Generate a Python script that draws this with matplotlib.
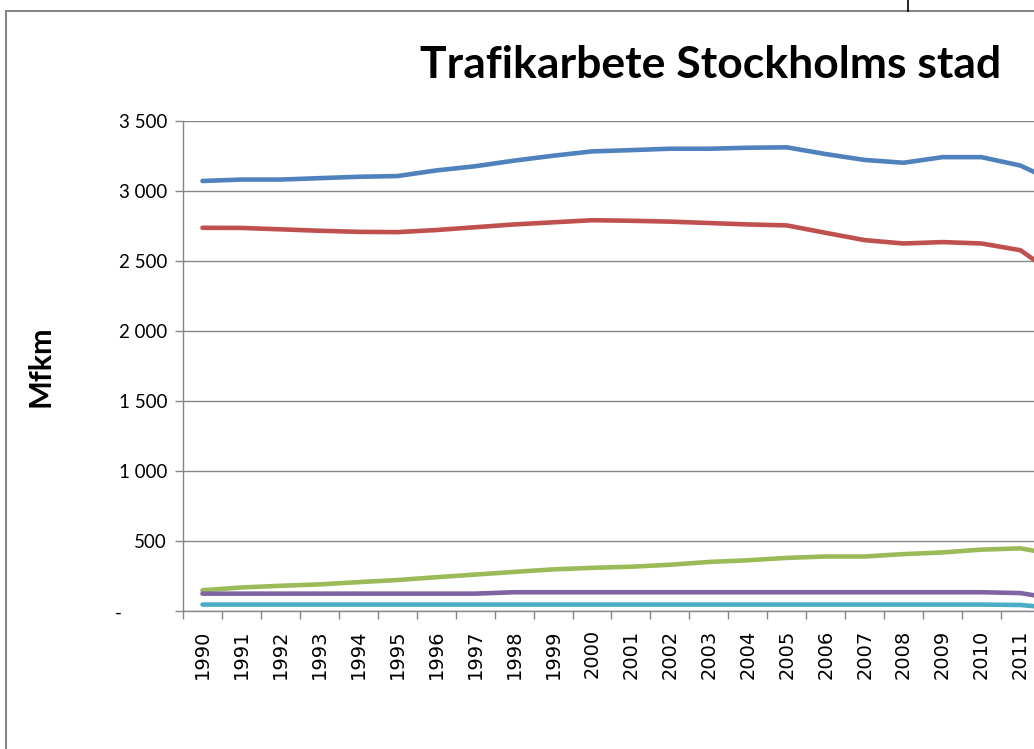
import matplotlib
matplotlib.use("Agg")
import matplotlib.pyplot as plt
from matplotlib.lines import Line2D
from matplotlib.ticker import FixedLocator
from matplotlib.transforms import ScaledTranslation

# data (Mfkm), the chart is cut at the right edge
years = list(range(1990, 2013))
blue = [3070, 3080, 3080, 3090, 3100, 3105, 3145, 3175, 3215, 3250, 3281,
        3290, 3300, 3300, 3307, 3310, 3262, 3220, 3200, 3240, 3240, 3180, 3050]
red = [2736, 2735, 2725, 2715, 2707, 2705, 2720, 2740, 2760, 2775, 2790,
       2786, 2780, 2770, 2760, 2753, 2700, 2648, 2624, 2634, 2624, 2576, 2380]
green = [150, 170, 182, 192, 208, 223, 243, 262, 281, 299, 310,
         318, 332, 352, 364, 381, 391, 391, 408, 420, 440, 449, 400]
purple = [126, 126, 126, 126, 126, 126, 126, 126, 136, 136, 136,
          136, 136, 136, 136, 136, 136, 136, 136, 136, 136, 130, 85]
cyan = [48, 48, 48, 48, 48, 48, 48, 48, 48, 48, 48,
        48, 48, 48, 48, 48, 48, 48, 48, 48, 48, 45, 20]

series = [blue, red, green, purple, cyan]
colors = ['#4F81BD', '#C0504D', '#9BBB59', '#8064A2', '#4BACC6']

yticks = [0, 500, 1000, 1500, 2000, 2500, 3000, 3500]
ylabels = ['-', '500', '1 000', '1 500', '2 000', '2 500', '3 000', '3 500']

W, H = 1034, 749
fig = plt.figure(figsize=(W / 100, H / 100), dpi=100)
ax = fig.add_axes([183 / W, 1 - 611.3 / H, 1 - 183 / W, (611.3 - 120.7) / H])

x = list(range(len(years)))
for vals, c in zip(series, colors):
    ax.plot(x, vals, color=c, lw=3.3, solid_capstyle='round', zorder=3)

grey = '#868686'
ax.set_yticks(yticks, ylabels, fontfamily='Lato', fontsize=13.5)
ax.yaxis.grid(True, color=grey, lw=1.0)
ax.set_axisbelow(True)
ax.tick_params(axis='y', length=6, color=grey, width=1.0, pad=5.5)

ax.set_xticks(x, [str(y) for y in years], rotation=90, fontsize=14)
ax.tick_params(axis='x', which='major', length=0, pad=13)
ax.xaxis.set_minor_locator(FixedLocator([i - 0.5 for i in range(len(years) + 1)]))
ax.tick_params(axis='x', which='minor', length=6, color=grey, width=1.0)

# limits after the ticks, so the cut at the right edge stays where it is
ax.set_ylim(0, 3500)
ax.set_xlim(-0.5, -0.5 + (W - 183) / 38.95)

for lab in ax.get_yticklabels():
    if lab.get_text() == '-':
        lab.set_transform(lab.get_transform() + ScaledTranslation(-0.45, 0, fig.dpi_scale_trans))

for s in ['top', 'right']:
    ax.spines[s].set_visible(False)
for s in ['left', 'bottom']:
    ax.spines[s].set_color(grey)
    ax.spines[s].set_linewidth(1.0)

fig.text(711 / W, 1 - 78 / H, 'Trafikarbete Stockholms stad', ha='center', va='baseline',
         fontfamily='Lato', fontweight='bold', fontsize=32)
fig.text(40 / W, 1 - 366 / H, 'Mfkm', ha='center', va='center', rotation=90,
         fontfamily='Lato', fontweight='bold', fontsize=22)

# frame of the chart object and the cut-off cell line above it
fig.add_artist(Line2D([6 / W, 6 / W], [0, 1 - 11 / H], color=grey, lw=1.5))
fig.add_artist(Line2D([6 / W, 1], [1 - 11 / H, 1 - 11 / H], color=grey, lw=1.5))
fig.add_artist(Line2D([908 / W, 908 / W], [1 - 11 / H, 1], color='black', lw=1.2))

fig.savefig('out.png', dpi=100)
